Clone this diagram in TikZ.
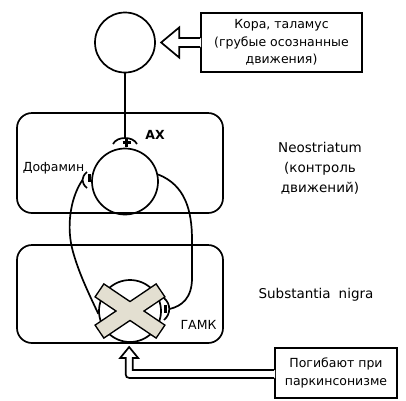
\documentclass[tikz,border=0pt]{standalone}
\usepackage{fontspec}
\setmainfont{DejaVu Sans}
\usepackage{tikz}
\usetikzlibrary{positioning}

\definecolor{crossfill}{HTML}{E3DFD1}

\begin{document}
\begin{tikzpicture}[x=1pt, y=-1pt, line width=1.7pt,
    neuron/.style = {circle, draw = black!100, inner sep = 0pt},
    area/.style = {draw = black!100, rounded corners = 15pt, minimum width = 206pt},
    note/.style = {draw = black!100, align = center, inner sep = 0pt, font = \fontsize{12.5}{17.5}\selectfont},
    txt/.style = {align = center, inner sep = 0pt, font = \fontsize{12.5}{17.5}\selectfont},
    bigtxt/.style = {align = center, inner sep = 0pt, font = \fontsize{13.5}{20}\selectfont}]
    \def\synbar{3pt}

    \useasboundingbox (0, 0) rectangle (406, 400);

    % areas
    \node[area, minimum height = 100pt] (striatum) at (120, 163) {};
    \node[area, minimum height = 98pt] (nigra) at (120, 294) {};

    % neurons
    \node[neuron, minimum size = 60pt] (top) at (125, 42.5) {};
    \node[neuron, minimum size = 66pt] (ax) at (125, 181.5) {};
    \node[neuron, minimum size = 62pt] (gaba) at (130, 311) {};

    % boxes on the right
    \node[note, minimum width = 161pt, minimum height = 59pt] (cortex) at (281.5, 42.5) {Кора, таламус\\(грубые осознанные\\движения)};
    \node[note, minimum width = 122pt, minimum height = 50pt] (death) at (336, 373) {Погибают при\\паркинсонизме};

    % synapses
    \coordinate (plus) at (125, 137.5);
    \coordinate (da) at (82.5, 180);
    \coordinate (gb) at (169.5, 309);

    \draw[color = black!100] (top) -- (plus);
    \draw[color = black!100] (113, 144) .. controls (117, 136) and (133, 136) .. (137, 144);
    \draw[color = black!100, line width = 2.2pt] (122.5, 142.5) -- (130.5, 142.5) (126.5, 138.5) -- (126.5, 146.5);

    \draw[color = black!100] (87, 172) .. controls (81, 177) and (81, 183) .. (87, 188);
    \draw[color = black!100, line width = \synbar] (89.5, 174) -- (89.5, 182);

    \draw[color = black!100] (164, 298) .. controls (171, 304) and (171, 314) .. (164, 320);
    \draw[color = black!100, line width = \synbar] (165.5, 305) -- (165.5, 313);

    % connections
    \draw[color = black!100] (ax.12) .. controls (185, 185) and (192, 210) .. (192, 240) -- (192, 278) .. controls (192, 298) and (182, 306) .. (gb);
    \draw[color = black!100] (da) .. controls (72, 195) and (66, 222) .. (72, 248) .. controls (78, 272) and (90, 296) .. (gaba.185);

    % the cross
    \foreach \ang/\nm in {34/barA, -34/barB}
        \node[draw = black!100, line width = 3pt, minimum width = 72pt, minimum height = 14pt, rotate = \ang] (\nm) at (gaba) {};
    \foreach \ang/\nm in {34/fillA, -34/fillB}
        \node[fill = crossfill, minimum width = 72pt, minimum height = 14pt, rotate = \ang] (\nm) at (gaba) {};

    % hollow arrows
    \fill[white, shift = {(cortex.west)}] (1, -4.5) -- (-21, -4.5) -- (-21, -15) -- (-39, 0) -- (-21, 15) -- (-21, 4.5) -- (1, 4.5) -- cycle;
    \draw[color = black!100, shift = {(cortex.west)}] (0, -4.5) -- (-21, -4.5) -- (-21, -15) -- (-39, 0) -- (-21, 15) -- (-21, 4.5) -- (0, 4.5);

    \fill[white, shift = {(death.west)}] (1, -3) -- (-141.5, -3) -- (-141.5, -15) -- (-136, -15) -- (-145, -26) -- (-154, -15) -- (-148.5, -15) -- (-148.5, -3) .. controls (-148.5, 5) .. (-140.5, 5) -- (1, 5) -- cycle;
    \draw[color = black!100, shift = {(death.west)}] (0, -3) -- (-141.5, -3) -- (-141.5, -15) -- (-136, -15) -- (-145, -26) -- (-154, -15) -- (-148.5, -15) -- (-148.5, -3) .. controls (-148.5, 5) .. (-140.5, 5) -- (0, 5);

    % labels
    \node[txt, font = \fontsize{12.5}{15}\bfseries] (axlabel) at (155, 135) {АХ};
    \node[txt] (dalabel) at (53.5, 168) {Дофамин};
    \node[txt] (gabalabel) at (198.5, 325) {ГАМК};
    \node[bigtxt] (neolabel) at (320, 168) {Neostriatum\\(контроль\\движений)};
    \node[bigtxt] (niglabel) at (316, 295) {Substantia\hspace{8pt}nigra};

\end{tikzpicture}
\end{document}
